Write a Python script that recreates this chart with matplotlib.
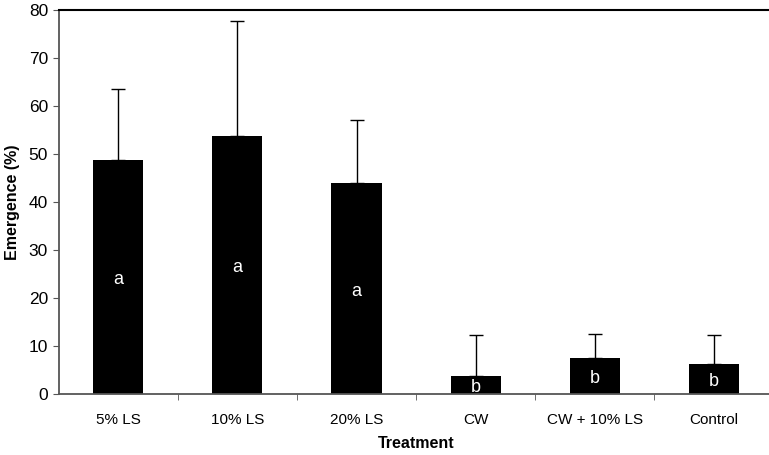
import numpy as np
import matplotlib.pyplot as plt

plt.rcParams['font.family'] = ['Liberation Sans', 'DejaVu Sans']

treatments = ['5% LS', '10% LS', '20% LS', 'CW', 'CW + 10% LS', 'Control']
emergence = [48.8, 53.8, 44.0, 3.8, 7.5, 6.3]
err_upper = [14.8, 24.0, 13.1, 8.4, 5.1, 6.0]
letters = ['a', 'a', 'a', 'b', 'b', 'b']

fig = plt.figure(figsize=(7.69, 4.55), dpi=100)
ax = fig.add_axes([0.0761, 0.134, 0.930, 0.844])

x = np.arange(len(treatments))
ax.bar(x, emergence, width=0.42, color='black', zorder=2)
ax.errorbar(x, emergence, yerr=[np.zeros(len(x)), err_upper], fmt='none',
            ecolor='black', elinewidth=1, capsize=5, capthick=1, zorder=1)

# significance letters inside bars
for xi, h, lab in zip(x, emergence, letters):
    ax.text(xi, h / 2 - 0.6, lab, color='white', ha='center', va='center', fontsize=13, zorder=3)

ax.set_xlim(-0.5, len(x) - 0.5)
ax.set_ylim(0, 80)
ax.set_yticks(np.arange(0, 81, 10))
ax.set_xticks(x)
ax.set_xticklabels(treatments, fontsize=11)
ax.tick_params(axis='x', which='major', length=0, pad=14)
ax.set_xticks(np.arange(0.5, len(x) - 0.5, 1), minor=True)
ax.tick_params(axis='x', which='minor', length=4, color='#555555')
ax.tick_params(axis='y', labelsize=12.5, length=4, color='#555555')

for s in ['left', 'bottom']:
    ax.spines[s].set_color('#555555')
    ax.spines[s].set_linewidth(1.3)
ax.spines['top'].set_linewidth(1.5)
ax.spines['right'].set_visible(False)

ax.set_xlabel('Treatment', fontweight='bold', fontsize=11.5, labelpad=6)
ax.set_ylabel('Emergence (%)', fontweight='bold', fontsize=11.5, labelpad=6)

plt.savefig('out.png', dpi=100)
